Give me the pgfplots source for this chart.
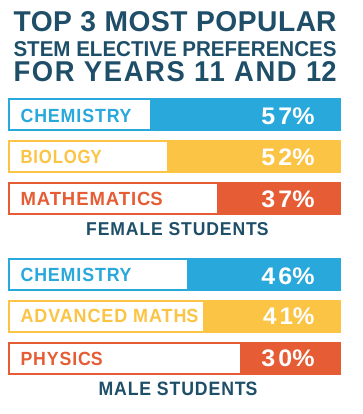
\documentclass[border=0pt]{standalone}
\usepackage{pgfplots}
\pgfplotsset{compat=1.18}
\usepackage{graphicx}
\usepackage{fontspec}
\setmainfont{Liberation Sans}
\definecolor{cblue}{RGB}{41,168,220}
\definecolor{cyel}{RGB}{252,196,68}
\definecolor{cred}{RGB}{230,92,52}
\definecolor{ctitle}{RGB}{30,78,104}
% fit text to width w and cap height h (in bp)
\newcommand{\fb}[3]{\resizebox{#1bp}{#2bp}{\bfseries #3}}
% letter-spaced text: amount, all-but-last, last
\newcommand{\ls}[3]{{\addfontfeature{LetterSpace=#1}#2}#3}
% pixel x -> axis x
\newcommand{\px}[1]{\fpeval{(340-(#1))/3.31}}
\begin{document}
\begin{tikzpicture}
\begin{axis}[
  width=363bp, height=414bp, scale only axis,
  xmin=-6.9486, xmax=102.7194, x dir=reverse,
  ymin=0, ymax=414, y dir=reverse,
  hide axis, clip=false,
  every node/.style={inner sep=0pt, outer sep=0pt},
]
\path (axis cs:-6.9486,0) rectangle (axis cs:102.7194,414);
% ---------- Female ----------
\addplot[xbar, bar shift=0pt, bar width=31, fill=white, draw=cblue, line width=2bp] coordinates {(100,114.5)};
\addplot[xbar, bar shift=0pt, bar width=31, fill=cblue, draw=cblue, line width=2bp] coordinates {(57,114.5)};
\addplot[xbar, bar shift=0pt, bar width=31, fill=white, draw=cyel, line width=2bp] coordinates {(100,156.5)};
\addplot[xbar, bar shift=0pt, bar width=31, fill=cyel, draw=cyel, line width=2bp] coordinates {(52,156.5)};
\addplot[xbar, bar shift=0pt, bar width=31, fill=white, draw=cred, line width=2bp] coordinates {(100,198.5)};
\addplot[xbar, bar shift=0pt, bar width=31, fill=cred, draw=cred, line width=2bp] coordinates {(37,198.5)};
% ---------- Male ----------
\addplot[xbar, bar shift=0pt, bar width=31, fill=white, draw=cblue, line width=2bp] coordinates {(100,274.5)};
\addplot[xbar, bar shift=0pt, bar width=31, fill=cblue, draw=cblue, line width=2bp] coordinates {(46,274.5)};
\addplot[xbar, bar shift=0pt, bar width=31, fill=white, draw=cyel, line width=2bp] coordinates {(100,316)};
\addplot[xbar, bar shift=0pt, bar width=31, fill=cyel, draw=cyel, line width=2bp] coordinates {(41,316)};
\addplot[xbar, bar shift=0pt, bar width=31, fill=white, draw=cred, line width=2bp] coordinates {(100,358)};
\addplot[xbar, bar shift=0pt, bar width=31, fill=cred, draw=cred, line width=2bp] coordinates {(30,358)};
% ---------- Title ----------
\node[anchor=base west, text=ctitle] at (axis cs:\px{10},31.7) {\fb{323}{20}{\ls{2}{TOP 3 MOST POPULA}{R}}};
\node[anchor=base west, text=ctitle] at (axis cs:\px{10},56.7) {\fb{323}{15}{STEM ELECTIVE PREFERENCES}};
\node[anchor=base west, text=ctitle] at (axis cs:\px{10},81.7) {\fb{323}{20}{\ls{6}{FOR YEARS 11 AND 1}{2}}};
% ---------- Female labels ----------
\node[anchor=base west, text=cblue] at (axis cs:\px{17},122.3) {\fb{111}{13.3}{\ls{5}{CHEMISTR}{Y}}};
\node[anchor=base west, text=cyel] at (axis cs:\px{17},163.3) {\fb{81.3}{13.3}{\ls{5}{BIOLOG}{Y}}};
\node[anchor=base west, text=cred] at (axis cs:\px{17},205) {\fb{142.3}{13.3}{\ls{5}{MATHEMATIC}{S}}};
\node[anchor=base east, text=white] at (axis cs:\px{318},124.3) {\fb{53}{16.7}{\ls{12}{57}{\%}}};
\node[anchor=base east, text=white] at (axis cs:\px{318},165) {\fb{53}{16.7}{\ls{12}{52}{\%}}};
\node[anchor=base east, text=white] at (axis cs:\px{318},207.7) {\fb{53}{16.7}{\ls{12}{37}{\%}}};
\node[anchor=base west, text=ctitle] at (axis cs:\px{82.7},235) {\fb{182.3}{13}{\ls{5}{FEMALE STUDENT}{S}}};
% ---------- Male labels ----------
\node[anchor=base west, text=cblue] at (axis cs:\px{17},281) {\fb{111}{13.3}{\ls{5}{CHEMISTR}{Y}}};
\node[anchor=base west, text=cyel] at (axis cs:\px{17},322.3) {\fb{178}{13.3}{\ls{5}{ADVANCED MATH}{S}}};
\node[anchor=base west, text=cred] at (axis cs:\px{17},365) {\fb{82.3}{13.3}{\ls{5}{PHYSIC}{S}}};
\node[anchor=base east, text=white] at (axis cs:\px{318},284.3) {\fb{53}{16.7}{\ls{12}{46}{\%}}};
\node[anchor=base east, text=white] at (axis cs:\px{318},324.3) {\fb{51.3}{16.7}{\ls{12}{41}{\%}}};
\node[anchor=base east, text=white] at (axis cs:\px{318},366) {\fb{53}{16.7}{\ls{12}{30}{\%}}};
\node[anchor=base west, text=ctitle] at (axis cs:\px{95},395) {\fb{159}{13.5}{\ls{5}{MALE STUDENT}{S}}};
\end{axis}
\end{tikzpicture}
\end{document}
